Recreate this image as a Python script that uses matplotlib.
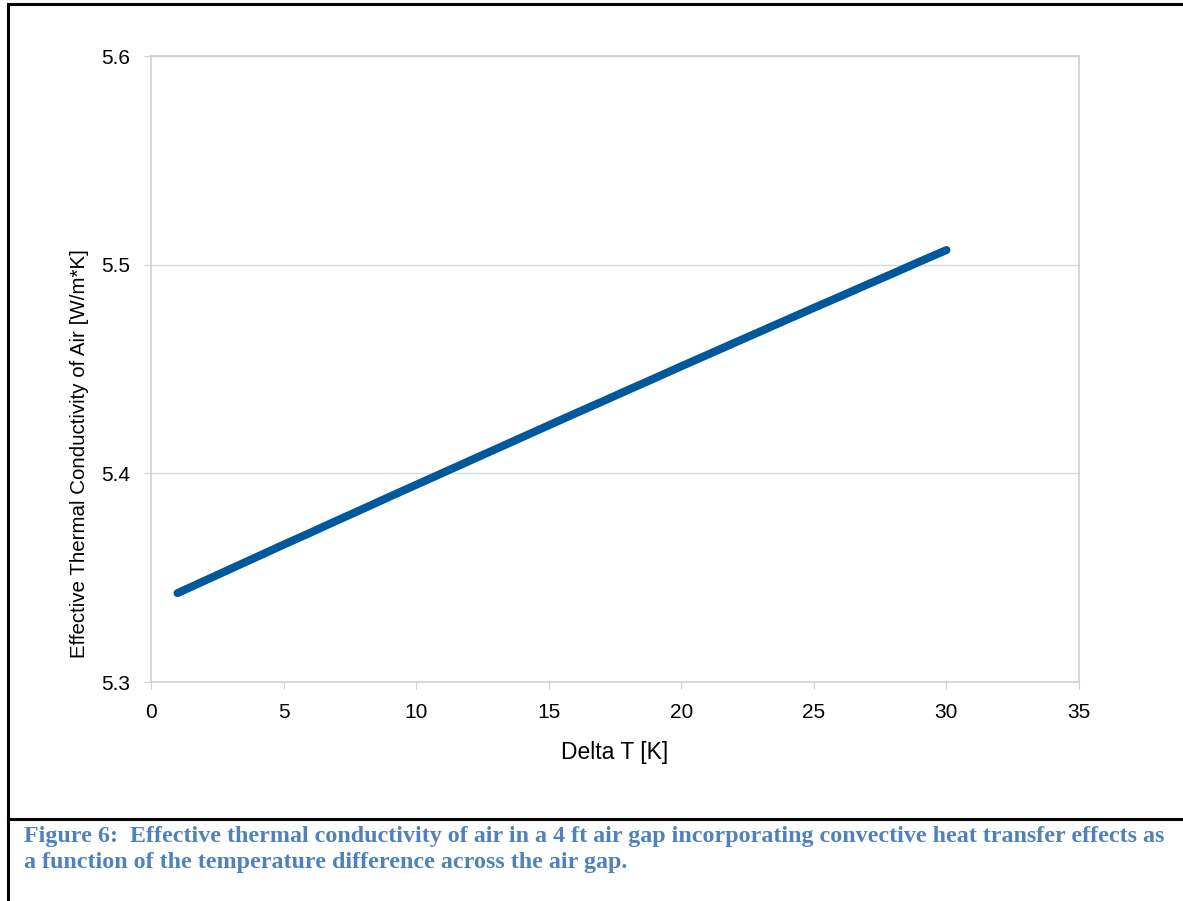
import matplotlib
matplotlib.use("Agg")
import matplotlib.pyplot as plt
from matplotlib.lines import Line2D

# Delta T [K] and effective conductivity [W/m*K]
delta_t = list(range(1, 31))
k_eff = [5.3426, 5.3484, 5.3542, 5.3600, 5.3658, 5.3715, 5.3773, 5.3830, 5.3888, 5.3945,
         5.4002, 5.4059, 5.4116, 5.4173, 5.4230, 5.4287, 5.4343, 5.4400, 5.4456, 5.4513,
         5.4569, 5.4625, 5.4681, 5.4737, 5.4793, 5.4848, 5.4904, 5.4959, 5.5015, 5.5070]

x_ticks = [0, 5, 10, 15, 20, 25, 30, 35]
y_ticks = [5.3, 5.4, 5.5, 5.6]
caption = ("Figure 6:  Effective thermal conductivity of air in a 4 ft air gap incorporating convective heat transfer effects as\n"
           "a function of the temperature difference across the air gap.")

W, H = 1183, 901
fig = plt.figure(figsize=(W / 100, H / 100), dpi=100)
ax = fig.add_axes([151 / W, 1 - 682 / H, (1079 - 151) / W, (682 - 56) / H])

ax.plot(delta_t, k_eff, color="#00589C", lw=5.8, solid_capstyle="round", solid_joinstyle="round")

ax.set_xlim(0, 35)
ax.set_ylim(5.3, 5.6)
ax.set_xticks(x_ticks)
ax.set_yticks(y_ticks)
ax.set_yticklabels(["5.3", "5.4", "5.5", "5.6"])
ax.grid(axis="y", color="#D9D9D9", lw=1)
ax.set_axisbelow(True)
for s in ax.spines.values():
    s.set_color("#D0D0D0")
    s.set_linewidth(1.2)
ax.tick_params(axis="both", direction="out", length=5, color="#D0D0D0",
               labelsize=15, labelcolor="black", pad=10)
for lab in ax.get_xticklabels() + ax.get_yticklabels():
    lab.set_family("Liberation Sans")

ax.set_xlabel("Delta T [K]", fontsize=16.5, family="Liberation Sans", labelpad=14)
ax.set_ylabel("Effective Thermal Conductivity of Air [W/m*K]", fontsize=14.8,
              family="Liberation Sans")
ax.yaxis.set_label_coords((89 - 151) / (1079 - 151), (682 - 454) / (682 - 56))

# frame around figure and caption separator
lw = 2.2
fig.add_artist(Line2D([8 / W, 8 / W], [0, 1 - 4 / H], color="black", lw=lw))
fig.add_artist(Line2D([8 / W, 1], [1 - 4 / H, 1 - 4 / H], color="black", lw=lw))
fig.add_artist(Line2D([8 / W, 1], [1 - 819 / H, 1 - 819 / H], color="black", lw=lw))

fig.text(24 / W, 1 - 826 / H, caption, ha="left", va="top", family="Liberation Serif",
         fontweight="bold", fontsize=17.3, color="#4F81BD", linespacing=1.32)

fig.savefig("out.png", dpi=100)
